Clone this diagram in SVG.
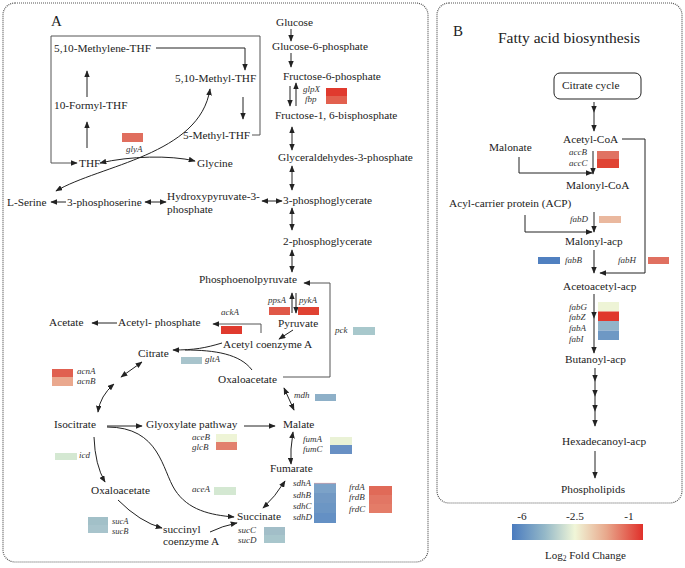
<svg xmlns="http://www.w3.org/2000/svg" width="685" height="568" viewBox="0 0 685 568" font-family="'Liberation Serif', 'Times New Roman', 'DejaVu Serif', serif">
<style>
text{font-family:'Liberation Serif','Times New Roman','DejaVu Serif',serif}
.t{font-size:11.3px;fill:#222}
.h{font-size:15px;fill:#222}
.g{font-style:italic;font-size:9px;fill:#333}
.ln{fill:none;stroke:#222;stroke-width:1}
.gr{fill:none;stroke:#555;stroke-width:1}
.ar{marker-end:url(#ah)}
.da{marker-start:url(#ah);marker-end:url(#ah)}
.mm{marker-mid:url(#ah);marker-end:url(#ah)}
.fr{fill:none;stroke:#555;stroke-width:1.2;stroke-dasharray:1 1}
</style>
<defs>
<marker id="ah" viewBox="0 0 10 8" refX="9" refY="4" markerWidth="7" markerHeight="5.6" markerUnits="userSpaceOnUse" orient="auto-start-reverse"><path d="M0,0 L10,4 L0,8 z" fill="#222"/></marker>
<linearGradient id="lg" x1="0" y1="0" x2="1" y2="0">
<stop offset="0" stop-color="#4a7bbf"/><stop offset="0.25" stop-color="#94b8c8"/><stop offset="0.48" stop-color="#f0f6d8"/><stop offset="0.72" stop-color="#e8a88c"/><stop offset="1" stop-color="#e0302a"/>
</linearGradient>
</defs>
<rect width="685" height="568" fill="#fff"/>
<rect class="fr" x="3" y="3" width="425" height="559" rx="12"/>
<rect class="fr" x="437" y="3" width="245" height="500" rx="12"/>
<text class="h" x="51" y="26">A</text>
<text class="h" x="453" y="36">B</text>
<text class="h" x="498" y="43" style="font-size:15.5px">Fatty acid biosynthesis</text>

<g id="connectors">
<path class="gr ar" d="M252,135 H260 V36 H51 V163 H77"/>
<path class="ln ar" d="M156,48 H245 V70"/>
<path class="ln ar" d="M243,97 V119"/>
<path class="ln ar" d="M87,97 V71"/>
<path class="ln ar" d="M87,148 V122"/>
<path class="ln da" d="M100,163 C130,156 170,155 195,161"/>
<path class="ln da" d="M56,191 C100,165 200,155 210,89"/>
<path class="ln ar" d="M66,202 H51"/>
<path class="ln da" d="M145,202 H166"/>
<path class="ln da" d="M262,201 H282"/>
<path class="ln ar" d="M291,29 V41"/>
<path class="ln ar" d="M291,53 V67"/>
<path class="ln ar" d="M290,86 V106"/>
<path class="ln ar" d="M296,106 V83"/>
<path class="ln da" d="M292,127 V150"/>
<path class="ln da" d="M292,166 V190"/>
<path class="ln da" d="M292,208 V230"/>
<path class="ln da" d="M292,250 V272"/>
<path class="gr ar" d="M283,377 H330 V283 H304"/>
<path class="ln ar" d="M292,313 V293"/>
<path class="ln ar" d="M296,293 V313"/>
<path class="ln ar" d="M293,330 L279,339"/>
<path class="gr ar" d="M261,333 V324 H213"/>
<path class="ln ar" d="M117,323 H92"/>
<path class="ln ar" d="M222,343 C205,348 195,350 173,350"/>
<path class="ln" d="M252,370 C240,354 215,350 185,350"/>
<path class="ln da" d="M284,388 L294,410"/>
<path class="ln ar" d="M244,426 H275"/>
<path class="ln ar" d="M107,426 H142"/>
<path class="ln ar" d="M107,427 C160,427 162,470 175,490 C188,510 210,515 234,517"/>
<path class="ln da" d="M121,377 L142,362"/>
<path class="ln da" d="M114,384 Q100,396 98,412"/>
<path class="ln ar" d="M94,437 Q95,465 105,482"/>
<path class="ln ar" d="M118,500 Q140,522 162,528"/>
<path class="ln ar" d="M210,532 Q222,526 237,523"/>
<path class="ln da" d="M293,432 Q290,450 291,464"/>
<path class="ln da" d="M285,481 Q275,497 263,508"/>
<path class="ln mm" d="M594,102 L594,112 L594,131"/>
<path class="ln ar" d="M622,139 H645 V273 H600"/>
<path class="ln ar" d="M519,157 V173 H592"/>
<path class="ln ar" d="M593,151 V174"/>
<path class="ln ar" d="M525,215 V232 H592"/>
<path class="ln ar" d="M594,212 V232"/>
<path class="ln ar" d="M594,250 V273"/>
<path class="ln mm" d="M594,294 L594,318 L594,353"/>
<path class="ln mm" d="M595,368 L595,381 L595,396 L595,411 L595,426"/>
<path class="ln ar" d="M595,451 V478"/>
</g>

<g id="n-methylene-thf"><text class="t" x="54" y="52">5,10-Methylene-THF</text></g>
<g id="n-methyl-thf"><text class="t" x="175" y="82">5,10-Methyl-THF</text></g>
<g id="n-formyl-thf"><text class="t" x="54" y="109">10-Formyl-THF</text></g>
<g id="n-5methyl-thf"><text class="t" x="183" y="139">5-Methyl-THF</text></g>
<g id="n-thf"><text class="t" x="79" y="167">THF</text></g>
<g id="n-glycine"><text class="t" x="197" y="167">Glycine</text></g>
<g id="n-lserine"><text class="t" x="7" y="206">L-Serine</text></g>
<g id="n-3pser"><text class="t" x="67" y="206">3-phosphoserine</text></g>
<g id="n-hpp"><text class="t" x="167" y="200">Hydroxypyruvate-3-</text><text class="t" x="167" y="213">phosphate</text></g>
<g id="n-glucose"><text class="t" x="276" y="26">Glucose</text></g>
<g id="n-g6p"><text class="t" x="272" y="50">Glucose-6-phosphate</text></g>
<g id="n-f6p"><text class="t" x="283" y="80">Fructose-6-phosphate</text></g>
<g id="n-f16bp"><text class="t" x="275" y="119">Fructose-1, 6-bisphosphate</text></g>
<g id="n-g3p"><text class="t" x="278" y="161">Glyceraldehydes-3-phosphate</text></g>
<g id="n-3pg"><text class="t" x="283" y="204">3-phosphoglycerate</text></g>
<g id="n-2pg"><text class="t" x="283" y="245">2-phosphoglycerate</text></g>
<g id="n-pep"><text class="t" x="199" y="283">Phosphoenolpyruvate</text></g>
<g id="n-pyruvate"><text class="t" x="278" y="327">Pyruvate</text></g>
<g id="n-acetylcoa"><text class="t" x="223" y="348">Acetyl coenzyme A</text></g>
<g id="n-acetylp"><text class="t" x="118" y="326">Acetyl- phosphate</text></g>
<g id="n-acetate"><text class="t" x="49" y="326">Acetate</text></g>
<g id="n-citrate"><text class="t" x="138" y="357">Citrate</text></g>
<g id="n-oaa1"><text class="t" x="218" y="383">Oxaloacetate</text></g>
<g id="n-isocitrate"><text class="t" x="54" y="428">Isocitrate</text></g>
<g id="n-glyoxylate"><text class="t" x="146" y="428">Glyoxylate pathway</text></g>
<g id="n-malate"><text class="t" x="283" y="428">Malate</text></g>
<g id="n-fumarate"><text class="t" x="270" y="472">Fumarate</text></g>
<g id="n-oaa2"><text class="t" x="91" y="494">Oxaloacetate</text></g>
<g id="n-succinate"><text class="t" x="237" y="520">Succinate</text></g>
<g id="n-succoa"><text class="t" x="163" y="533">succinyl</text><text class="t" x="163" y="545">coenzyme A</text></g>

<g id="gene-glyA"><rect x="122" y="133" width="21" height="9" fill="#e06e5e"/><text class="g" x="126" y="152">glyA</text></g>
<g id="gene-glpX-fbp"><rect x="326" y="88" width="21" height="8" fill="#e03a2e"/><rect x="326" y="96" width="21" height="8" fill="#e2604e"/><text class="g" x="303" y="92">glpX</text><text class="g" x="305" y="102">fbp</text></g>
<g id="gene-ppsA"><rect x="269" y="307" width="21" height="8" fill="#e05848"/><text class="g" x="268" y="303">ppsA</text></g>
<g id="gene-pykA"><rect x="298" y="307" width="21" height="8" fill="#e04232"/><text class="g" x="299" y="303">pykA</text></g>
<g id="gene-ackA"><rect x="221" y="326" width="21" height="8" fill="#e03a2e"/><text class="g" x="221" y="315">ackA</text></g>
<g id="gene-pck"><rect x="353" y="327" width="22" height="8" fill="#a8c8cc"/><text class="g" x="335" y="333">pck</text></g>
<g id="gene-gltA"><rect x="181" y="357" width="21" height="7" fill="#a8c4cc"/><text class="g" x="205" y="362">gltA</text></g>
<g id="gene-acn"><rect x="52" y="369" width="21" height="8" fill="#e06050"/><rect x="52" y="377" width="21" height="9" fill="#eaa88e"/><text class="g" x="77" y="374">acnA</text><text class="g" x="77" y="384">acnB</text></g>
<g id="gene-icd"><rect x="55" y="453" width="22" height="7" fill="#d4e8d2"/><text class="g" x="79" y="458">icd</text></g>
<g id="gene-aceB-glcB"><rect x="216" y="434" width="21" height="8" fill="#eef4d6"/><rect x="216" y="442" width="21" height="8" fill="#e2806c"/><text class="g" x="192" y="440">aceB</text><text class="g" x="192" y="450">glcB</text></g>
<g id="gene-aceA"><rect x="214" y="487" width="22" height="8" fill="#d4e8d2"/><text class="g" x="192" y="492">aceA</text></g>
<g id="gene-mdh"><rect x="315" y="394" width="21" height="7" fill="#8eb0c8"/><text class="g" x="294" y="398">mdh</text></g>
<g id="gene-fum"><rect x="330" y="437" width="22" height="8" fill="#eaf2d6"/><rect x="330" y="445" width="22" height="9" fill="#6890c4"/><text class="g" x="303" y="442">fumA</text><text class="g" x="303" y="452">fumC</text></g>
<g id="gene-sdh"><rect x="314" y="483" width="22" height="10" fill="#7ca2c8"/><rect x="314" y="493" width="22" height="10" fill="#7299c4"/><rect x="314" y="503" width="22" height="10" fill="#6c96c4"/><rect x="314" y="513" width="22" height="10" fill="#6490c4"/><line x1="314" y1="483.3" x2="336" y2="483.3" stroke="#e8a0a0" stroke-width="0.6"/><text class="g" x="293" y="486">sdhA</text><text class="g" x="293" y="498">sdhB</text><text class="g" x="293" y="509">sdhC</text><text class="g" x="293" y="520">sdhD</text></g>
<g id="gene-frd"><rect x="369" y="486" width="23" height="9" fill="#e06a58"/><rect x="369" y="495" width="23" height="9" fill="#e27664"/><rect x="369" y="504" width="23" height="9" fill="#e47c68"/><text class="g" x="349" y="490">frdA</text><text class="g" x="349" y="500">frdB</text><text class="g" x="349" y="512">frdC</text></g>
<g id="gene-sucAB"><rect x="88" y="517" width="20" height="8" fill="#a2c0c8"/><rect x="88" y="525" width="20" height="8" fill="#a8c4cc"/><text class="g" x="112" y="524" style="font-size:8.5px">sucA</text><text class="g" x="112" y="533.5" style="font-size:8.5px">sucB</text></g>
<g id="gene-sucCD"><rect x="264" y="527" width="21" height="8" fill="#a2bec8"/><rect x="264" y="535" width="21" height="8" fill="#a8c6cc"/><text class="g" x="238" y="533">sucC</text><text class="g" x="238" y="543">sucD</text></g>

<g id="n-citrate-cycle"><rect x="554" y="73" width="87" height="26" rx="6" fill="#fff" stroke="#222" stroke-width="1"/><text class="t" x="562" y="89">Citrate cycle</text></g>
<g id="n-acetyl-coa"><text class="t" x="563" y="143">Acetyl-CoA</text></g>
<g id="n-malonate"><text class="t" x="489" y="151">Malonate</text></g>
<g id="n-malonyl-coa"><text class="t" x="566" y="189">Malonyl-CoA</text></g>
<g id="n-acp"><text class="t" x="449" y="207">Acyl-carrier  protein (ACP)</text></g>
<g id="n-malonyl-acp"><text class="t" x="565" y="245">Malonyl-acp</text></g>
<g id="n-acetoacetyl-acp"><text class="t" x="563" y="290">Acetoacetyl-acp</text></g>
<g id="n-butanoyl-acp"><text class="t" x="565" y="363">Butanoyl-acp</text></g>
<g id="n-hexadecanoyl-acp"><text class="t" x="562" y="445">Hexadecanoyl-acp</text></g>
<g id="n-phospholipids"><text class="t" x="561" y="493">Phospholipids</text></g>

<g id="gene-acc"><rect x="597" y="151" width="22" height="8" fill="#e07262"/><rect x="597" y="159" width="22" height="9" fill="#e04434"/><text class="g" x="569" y="155">accB</text><text class="g" x="569" y="166">accC</text></g>
<g id="gene-fabD"><rect x="599" y="216" width="22" height="7" fill="#eab89e"/><text class="g" x="570" y="222">fabD</text></g>
<g id="gene-fabB"><rect x="538" y="257" width="22" height="7" fill="#5080c0"/><text class="g" x="565" y="263">fabB</text></g>
<g id="gene-fabH"><rect x="648" y="257" width="21" height="7" fill="#e07060"/><text class="g" x="618" y="263">fabH</text></g>
<g id="gene-fabGZAI"><rect x="598" y="302" width="21" height="9.5" fill="#eef4d6"/><rect x="598" y="311.5" width="21" height="9.5" fill="#e0382c"/><rect x="598" y="321" width="21" height="9.5" fill="#92b4c8"/><rect x="598" y="330.5" width="21" height="9.5" fill="#6e98c4"/><text class="g" x="569" y="310">fabG</text><text class="g" x="569" y="320">fabZ</text><text class="g" x="569" y="331">fabA</text><text class="g" x="569" y="342">fabI</text></g>

<g id="legend">
<rect x="512" y="524" width="131" height="16" fill="url(#lg)"/>
<text class="t" x="522" y="520" text-anchor="middle">-6</text>
<text class="t" x="575" y="520" text-anchor="middle">-2.5</text>
<text class="t" x="629" y="520" text-anchor="middle">-1</text>
<text class="t" x="545" y="559" style="font-size:11px">Log<tspan dy="2" style="font-size:7.5px">2</tspan><tspan dy="-2"> Fold Change</tspan></text>
</g>
</svg>
